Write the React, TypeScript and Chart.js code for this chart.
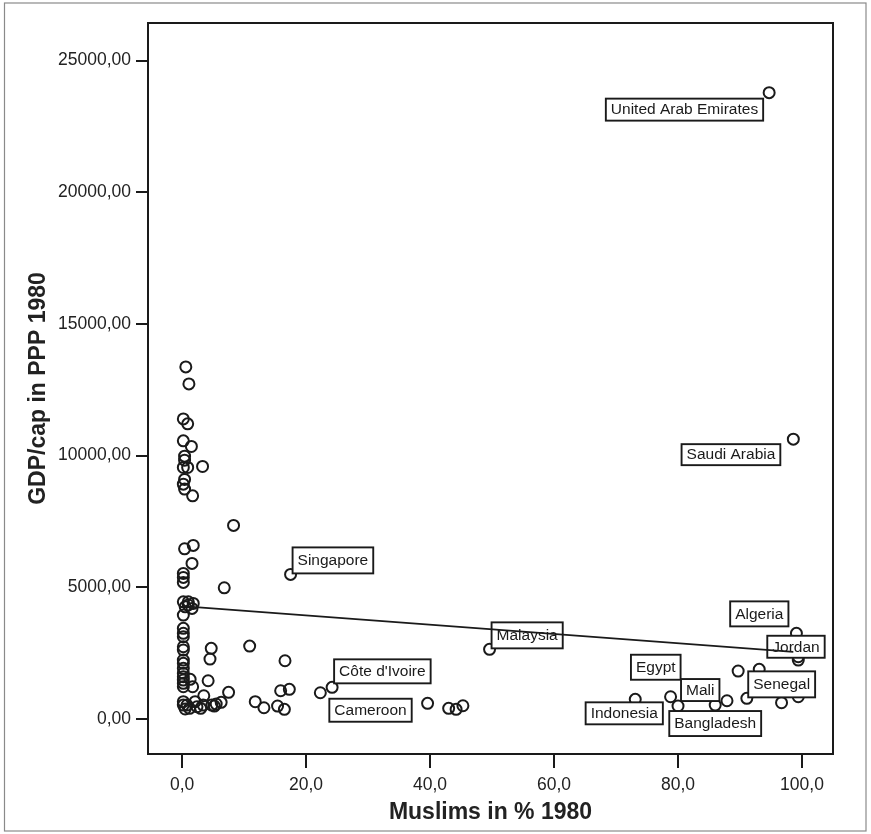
import React, { useEffect, useRef } from "react";
import { Chart, registerables } from "chart.js";

Chart.register(...registerables);

// ---- data ----
const muslimPct: number[] = [
  0.6, 1.1, 0.2, 0.9, 0.2, 1.5, 0.4, 0.4, 0.9, 3.3, 0.2, 0.4, 0.2, 0.4, 1.7, 8.3,
  0.4, 1.8, 1.6, 0.2, 0.2, 0.2, 6.8,
  0.2, 1.0, 1.8, 0.5, 1.6, 1.0,
  0.2, 0.2, 0.2, 0.2, 0.2, 0.2, 0.2, 0.2, 0.2, 0.2, 0.2, 0.2, 0.2, 0.2,
  4.7, 4.5, 10.9, 4.2, 1.3, 1.7, 7.5, 3.5,
  0.2, 0.8, 1.2, 2.1, 2.4, 3.0, 3.4, 4.8, 5.5, 6.3, 11.8, 0.2, 0.5,
  16.6, 5.2, 13.2, 15.4, 16.5, 15.9, 17.3, 22.3, 24.2, 39.6, 43.0, 44.2, 45.3, 49.6,
  17.5, 94.7, 98.6,
  73.1, 78.8, 80.0, 86.0, 87.9, 89.7, 93.1, 91.1, 96.7, 99.1, 99.4, 99.4, 99.4, 99.4,
];

const gdpCap: number[] = [
  13370, 12725, 11396, 11207, 10561, 10349, 9981, 9829, 9552, 9590, 9552, 9097, 8918, 8729, 8474, 7351,
  6463, 6592, 5909, 5529, 5378, 5188, 4983,
  4450, 4450, 4390, 4260, 4200, 4330,
  3947, 3442, 3252, 3123, 2744, 2619, 2239, 2114, 1924, 1734, 1605, 1480, 1355, 1226,
  2683, 2277, 2770, 1453, 1507, 1226, 1013, 884,
  657, 531, 406, 657, 467, 406, 531, 531, 569, 634, 657, 530, 380,
  2212, 493, 429, 493, 368, 1074, 1127, 998, 1203, 596, 406, 368, 505, 2645,
  5491, 23783, 10626,
  748, 846, 493, 531, 694, 1822, 1886, 786, 619, 3252, 2364, 2239, 1545, 846,
];

const countryLabel: string[] = [
  "", "", "", "", "", "", "", "", "", "", "", "", "", "", "", "",
  "", "", "", "", "", "", "",
  "", "", "", "", "", "",
  "", "", "", "", "", "", "", "", "", "", "", "", "", "",
  "", "", "", "", "", "", "", "",
  "", "", "", "", "", "", "", "", "", "", "", "", "",
  "", "", "", "", "", "", "", "Cameroon", "Côte d'Ivoire", "", "", "", "", "Malaysia",
  "Singapore", "United Arab Emirates", "Saudi Arabia",
  "Indonesia", "Egypt", "Mali", "Bangladesh", "", "", "Senegal", "", "", "Algeria", "Jordan", "", "", "",
];

const fitLineX: number[] = [0, 98.6];
const fitLineY: number[] = [4290, 2550];

const xTicks: number[] = [0, 20, 40, 60, 80, 100];
const yTicks: number[] = [0, 5000, 10000, 15000, 20000, 25000];

const xTitle = "Muslims in % 1980";
const yTitle = "GDP/cap in PPP 1980";

// ---- label box placement (pixel offsets from the point) ----
type Placement = { anchor: "left" | "right" | "center"; dx: number; dy: number; h: number };
const labelPlacement: Record<string, Placement> = {
  "United Arab Emirates": { anchor: "right", dx: -6, dy: 6, h: 22 },
  "Saudi Arabia": { anchor: "right", dx: -13, dy: 5, h: 21 },
  Singapore: { anchor: "left", dx: 2, dy: -27, h: 26 },
  Malaysia: { anchor: "left", dx: 2, dy: -27, h: 26 },
  "Côte d'Ivoire": { anchor: "left", dx: 2, dy: -28, h: 24 },
  Cameroon: { anchor: "left", dx: 9, dy: 6, h: 23 },
  Algeria: { anchor: "right", dx: -8, dy: -32, h: 25 },
  Jordan: { anchor: "left", dx: -31, dy: -21, h: 22 },
  Egypt: { anchor: "right", dx: 10, dy: -42, h: 25 },
  Mali: { anchor: "left", dx: 3, dy: -27, h: 22 },
  Bangladesh: { anchor: "center", dx: 0, dy: 6, h: 25 },
  Indonesia: { anchor: "center", dx: -11, dy: 3, h: 22 },
  Senegal: { anchor: "left", dx: -11, dy: 2, h: 26 },
};

const FONT = "'Liberation Sans', Arial, Helvetica, sans-serif";
const INK = "#1a1a1a";

const framePlugin = {
  id: "frame",
  beforeDraw(chart: any) {
    const { ctx, width, height } = chart;
    ctx.save();
    ctx.fillStyle = "#ffffff";
    ctx.fillRect(0, 0, width, height);
    ctx.strokeStyle = "#8a8a8a";
    ctx.lineWidth = 1.2;
    ctx.strokeRect(4.5, 3.0, 861.5, 828);
    ctx.restore();
  },
  afterDraw(chart: any) {
    const { ctx, chartArea: a } = chart;
    ctx.save();
    ctx.strokeStyle = INK;
    ctx.lineWidth = 2;
    ctx.strokeRect(a.left, a.top, a.right - a.left, a.bottom - a.top);
    ctx.restore();
  },
};

const labelPlugin = {
  id: "pointLabels",
  afterDatasetDraw(chart: any, args: any) {
    if (args.index !== 0) return;
    const { ctx } = chart;
    const xs = chart.scales.x;
    const ys = chart.scales.y;
    ctx.save();
    ctx.font = `15.5px ${FONT}`;
    ctx.textBaseline = "middle";
    ctx.textAlign = "center";
    countryLabel.forEach((name, i) => {
      if (!name) return;
      const p = labelPlacement[name];
      if (!p) return;
      const px = xs.getPixelForValue(muslimPct[i]);
      const py = ys.getPixelForValue(gdpCap[i]);
      const w = ctx.measureText(name).width + 10;
      let left = px + p.dx;
      if (p.anchor === "right") left = px + p.dx - w;
      if (p.anchor === "center") left = px + p.dx - w / 2;
      const top = py + p.dy;
      ctx.fillStyle = "#ffffff";
      ctx.fillRect(left, top, w, p.h);
      ctx.strokeStyle = INK;
      ctx.lineWidth = 1.9;
      ctx.strokeRect(left, top, w, p.h);
      ctx.fillStyle = INK;
      ctx.fillText(name, left + w / 2, top + p.h / 2 + 0.5);
    });
    ctx.restore();
  },
};

export default function App() {
  const ref = useRef<HTMLCanvasElement | null>(null);

  useEffect(() => {
    if (!ref.current) return;
    const points = muslimPct.map((x, i) => ({ x, y: gdpCap[i] }));
    const line = fitLineX.map((x, i) => ({ x, y: fitLineY[i] }));
    const chart = new Chart(ref.current, {
      type: "scatter",
      data: {
        datasets: [
          {
            type: "scatter",
            data: points,
            order: 2,
            pointRadius: 5.5,
            pointHoverRadius: 5.5,
            pointBorderWidth: 2,
            borderColor: INK,
            backgroundColor: "rgba(0,0,0,0)",
          } as any,
          {
            type: "line",
            data: line,
            order: 1,
            borderColor: INK,
            borderWidth: 1.8,
            pointRadius: 0,
            fill: false,
          } as any,
        ],
      },
      options: {
        responsive: false,
        animation: false,
        events: [],
        layout: { padding: { top: 23, right: 38, left: 0, bottom: 0 } },
        plugins: { legend: { display: false }, tooltip: { enabled: false } },
        scales: {
          x: {
            type: "linear",
            min: -5.5,
            max: 105,
            afterBuildTicks: (s: any) => {
              s.ticks = xTicks.map((v) => ({ value: v }));
            },
            afterFit: (s: any) => {
              s.height = 80;
            },
            ticks: {
              autoSkip: false,
              maxRotation: 0,
              padding: 7,
              color: "#222",
              font: { family: FONT, size: 17.5 },
              callback: (v: any) => Number(v).toFixed(1).replace(".", ","),
            },
            grid: { drawOnChartArea: false, drawTicks: true, tickLength: 14, color: INK, lineWidth: 2 },
            border: { display: false },
            title: {
              display: true,
              text: xTitle,
              color: "#222",
              font: { family: FONT, size: 23, weight: "bold" },
              padding: { top: 0, bottom: 8 },
            },
          },
          y: {
            type: "linear",
            min: -1328,
            max: 26427,
            afterBuildTicks: (s: any) => {
              s.ticks = yTicks.map((v) => ({ value: v }));
            },
            afterFit: (s: any) => {
              s.width = 148;
            },
            ticks: {
              autoSkip: false,
              padding: 5,
              color: "#222",
              font: { family: FONT, size: 17.5 },
              callback: (v: any) => Number(v).toFixed(2).replace(".", ","),
            },
            grid: { drawOnChartArea: false, drawTicks: true, tickLength: 12, color: INK, lineWidth: 2 },
            border: { display: false },
            title: {
              display: true,
              text: yTitle,
              color: "#222",
              font: { family: FONT, size: 23, weight: "bold" },
              padding: { top: 25, bottom: 0 },
            },
          },
        },
      } as any,
      plugins: [framePlugin, labelPlugin],
    });
    return () => chart.destroy();
  }, []);

  return (
    <div style={{ position: "absolute", left: 0, top: 0, width: 871, height: 834 }}>
      <canvas ref={ref} width={871} height={834} style={{ display: "block" }} />
    </div>
  );
}
